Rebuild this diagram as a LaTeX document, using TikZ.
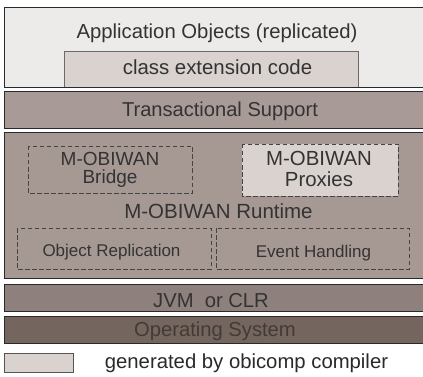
\documentclass[tikz,border=0pt]{standalone}
\usepackage{fontspec}
\setmainfont{Liberation Sans}
\newcommand\txtsize[1]{\fontsize{#1}{#1}\selectfont}
\definecolor{appfill}{HTML}{EDEBEA}
\definecolor{genfill}{HTML}{D9D2CF}
\definecolor{txfill}{HTML}{A89B97}
\definecolor{rtfill}{HTML}{A69994}
\definecolor{vmfill}{HTML}{8E817D}
\definecolor{osfill}{HTML}{74665F}
\definecolor{edge}{HTML}{2A2A2A}
\definecolor{dashedge}{HTML}{444444}
\definecolor{ink}{HTML}{333333}
\definecolor{osink}{HTML}{433A36}
\tikzset{
  layer/.style={draw=edge, line width=1pt},
  part/.style={draw=dashedge, line width=0.9pt, dash pattern=on 4.5pt off 2.5pt},
  label/.style={anchor=base, inner sep=0pt, text=ink},
}
\begin{document}
\begin{tikzpicture}[x=1pt, y=-1pt]
\clip (0,0) rectangle (423,377);
\fill[white] (0,0) rectangle (423,377);

% application layer with generated class extension code
\path[layer, fill=appfill] (4.5,7.5) rectangle (440,87.5);
\path[layer, fill=genfill, draw=edge!70] (64,52) rectangle (358,87.5);
\draw[edge, line width=1pt] (4.5,87.5) -- (440,87.5);
\node[label, font=\txtsize{20.3}] (app) at (217,38.8) {Application Objects (replicated)};
\node[label, font=\txtsize{20.4}] (ext) at (217.5,75) {class extension code};

% transactional support
\path[layer, fill=txfill] (4.5,92) rectangle (440,129);
\node[label, font=\txtsize{20.1}] (tx) at (220,117) {Transactional Support};

% M-OBIWAN runtime
\path[layer, fill=rtfill] (4.5,132.5) rectangle (440,278);
\path[part] (28,146) rectangle (192,193);
\path[part, fill=genfill] (242,144) rectangle (398,196);
\path[part] (17,228) rectangle (211,269);
\path[part] (216,228) rectangle (409,269);
\node[label, font=\txtsize{19}] (bridge1) at (110,165) {M-OBIWAN};
\node[label, font=\txtsize{19}] (bridge2) at (110,183) {Bridge};
\node[label, font=\txtsize{20.4}] (proxy1) at (319,165) {M-OBIWAN};
\node[label, font=\txtsize{20.4}] (proxy2) at (319,186.5) {Proxies};
\node[label, font=\txtsize{20.5}] (rt) at (218.5,218.5) {M-OBIWAN Runtime};
\node[label, font=\txtsize{17}] (repl) at (111.5,256.5) {Object Replication};
\node[label, font=\txtsize{17}] (evt) at (313.5,257) {Event Handling};

% virtual machine and operating system
\path[layer, fill=vmfill] (4.5,284.5) rectangle (440,311.5);
\node[label, font=\txtsize{20.2}] (vm) at (211,307) {JVM\ \ or CLR};
\path[layer, fill=osfill] (4.5,316.5) rectangle (440,343.5);
\node[label, font=\txtsize{20.2}, text=osink] (os) at (215,336.5) {Operating System};

% legend
\path[layer, fill=genfill, draw=edge!80] (4.5,353) rectangle (73,372);
\node[label, font=\txtsize{20.3}, text=edge] (legend) at (246.5,368) {generated by obicomp compiler};
\end{tikzpicture}
\end{document}
